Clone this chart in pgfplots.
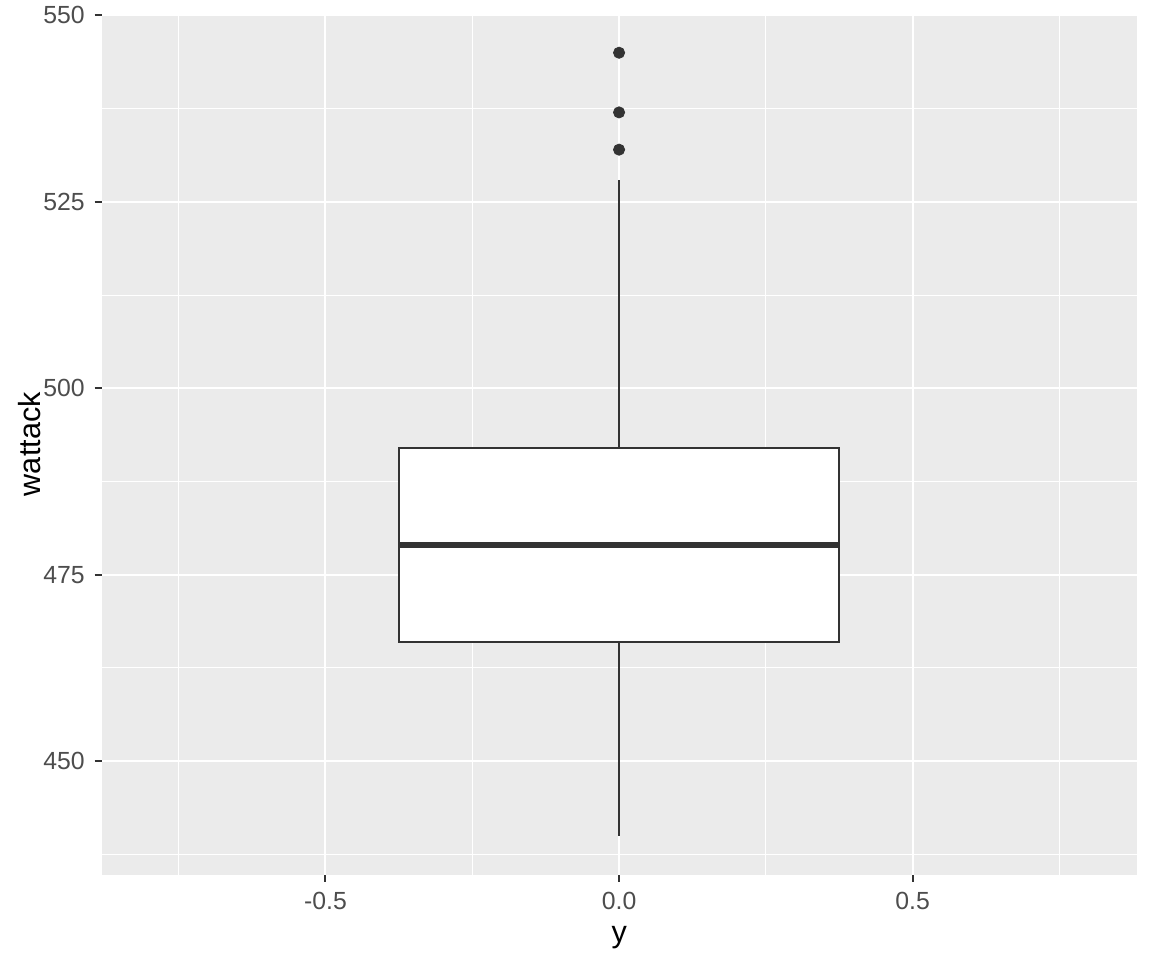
\documentclass[border=0pt]{standalone}
\usepackage{fontspec}
\setmainfont{Liberation Sans}
\usepackage{pgfplots}
\pgfplotsset{compat=1.18}
\definecolor{panelbg}{HTML}{EBEBEB}
\definecolor{dk}{HTML}{333333}
\definecolor{ticklab}{HTML}{4D4D4D}
\begin{document}
\begin{tikzpicture}
\begin{axis}[
  scale only axis,
  width=517.65pt, height=430.65pt,
  anchor=south west, at={(0,0)},
  xmin=-0.881, xmax=0.882,
  ymin=434.75, ymax=550.25,
  axis background/.style={fill=panelbg},
  axis line style={draw=none},
  xtick={-0.5,0,0.5},
  xticklabels={-0.5,0.0,0.5},
  ytick={450,475,500,525,550},
  yticklabels={450,475,500,525,550},
  minor xtick={-0.75,-0.25,0.25,0.75},
  minor ytick={437.5,462.5,487.5,512.5,537.5},
  grid=both,
  major grid style={white, line width=1pt},
  minor grid style={white, line width=0.5pt},
  tick align=outside,
  tick pos=left,
  major tick length=3.5pt,
  minor tick length=0pt,
  tick style={dk, line width=1pt},
  ticklabel style={font=\fontsize{12.4}{14}\selectfont, text=ticklab},
  xticklabel style={yshift=-1.5pt},
  yticklabel style={xshift=-1.5pt},
  xlabel={y},
  ylabel={wattack},
  label style={font=\fontsize{15.3}{18}\selectfont, text=black},
  xlabel style={at={(axis description cs:0.5,-0.073)}, anchor=center},
  ylabel style={at={(axis description cs:-0.0695,0.5)}, anchor=center},
]
% whiskers
\addplot[dk, line width=1pt] coordinates {(0,440) (0,466)};
\addplot[dk, line width=1pt] coordinates {(0,492) (0,528)};
% box (Q1=466, Q3=492)
\addplot[draw=dk, fill=white, line width=1pt] coordinates {(-0.375,466) (0.375,466) (0.375,492) (-0.375,492)} -- cycle;
% median
\addplot[dk, line width=2.7pt] coordinates {(-0.375,479) (0.375,479)};
% outliers
\addplot[only marks, mark=*, mark size=2.8pt, mark options={fill=dk, draw=dk}]
  coordinates {(0,532) (0,537) (0,545)};
\end{axis}
\useasboundingbox (-50.85pt,-42.8pt) rectangle (525.15pt,437.2pt);
\end{tikzpicture}
\end{document}
